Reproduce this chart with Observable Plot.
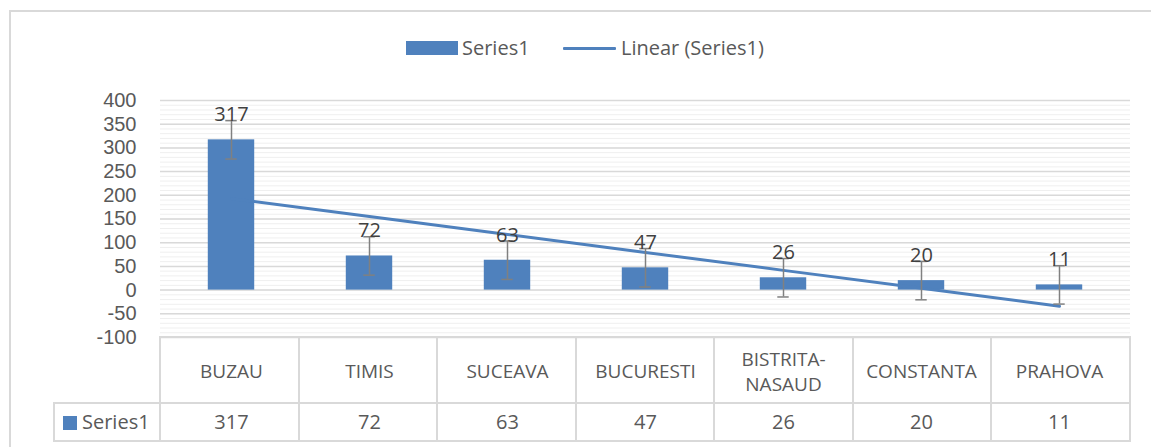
<!DOCTYPE html>
<html>
<head>
<meta charset="utf-8">
<script src="https://cdn.jsdelivr.net/npm/d3@7"></script>
<script src="https://cdn.jsdelivr.net/npm/@observablehq/plot@0.6"></script>
<style>
  html, body { margin: 0; padding: 0; background: #fff; }
  #wrap { position: relative; width: 1151px; height: 447px; overflow: hidden; font-family: "Open Sans", sans-serif; color: #595959; }
  #wrap svg { position: absolute; left: 0; top: 0; }
  .frame { position: absolute; left: 9px; top: 10px; width: 1200px; height: 500px; border: 2px solid #d9d9d9; box-sizing: border-box; }
  .ln { position: absolute; background: #d9d9d9; }
  .legend { position: absolute; top: 33px; left: 0; width: 1151px; height: 30px; font-size: 20px; }
  .legend .sw { position: absolute; }
  .legend .lbl { position: absolute; top: 0; line-height: 30px; white-space: nowrap; }
  .rowlbl { position: absolute; left: 63px; top: 405px; height: 34px; font-size: 20px; line-height: 34px; white-space: nowrap; }
  .rowlbl .sq { display: inline-block; width: 14px; height: 14px; background: #4f81bd; vertical-align: -1px; margin-right: 5px; }
  g[aria-label="y-axis tick label"] text { font-family: "Liberation Sans", Arial, sans-serif; }
</style>
</head>
<body>
<div id="wrap">
  <div class="frame"></div>
</div>
<script>
// ---- data ----
const categories = ["BUZAU", "TIMIS", "SUCEAVA", "BUCURESTI", "BISTRITA-NASAUD", "CONSTANTA", "PRAHOVA"];
const categoryLabels = ["BUZAU", "TIMIS", "SUCEAVA", "BUCURESTI", "BISTRITA-\nNASAUD", "CONSTANTA", "PRAHOVA"];
const values = [317, 72, 63, 47, 26, 20, 11];
const errorMargin = 40.5; // Excel standard-error bars (same for every bar)
const yTicks = [-100, -50, 0, 50, 100, 150, 200, 250, 300, 350, 400];
const yMinorTicks = d3.range(-100, 401, 10);
const seriesName = "Series1";
const trendName = "Linear (Series1)";

// ---- derived tables ----
const data = categories.map((c, i) => ({cat: c, label: categoryLabels[i], value: values[i], idx: i + 1}));
// linear trendline (least squares on index 1..n), as Excel does
const mx = d3.mean(data, d => d.idx), my = d3.mean(data, d => d.value);
const slope = d3.sum(data, d => (d.idx - mx) * (d.value - my)) / d3.sum(data, d => (d.idx - mx) ** 2);
const trend = data.map(d => ({cat: d.cat, y: my + slope * (d.idx - mx)}));

// ---- layout ----
const W = 1151, H = 447, mL = 160, mR = 21, mT = 100, mB = 110;
const bw = (W - mL - mR) / categories.length;
const blue = "#4f81bd";

const chart = Plot.plot({
  width: W, height: H,
  marginLeft: mL, marginRight: mR, marginTop: mT, marginBottom: mB,
  style: {fontFamily: "'Open Sans', sans-serif", fontSize: "20px", color: "#595959", background: "transparent", overflow: "visible"},
  x: {domain: categories, padding: 0, axis: null},
  y: {domain: [-100, 400], ticks: yTicks, tickFormat: d => String(d), tickSize: 0, tickPadding: 24, label: null},
  marks: [
    Plot.ruleY(yMinorTicks, {stroke: "#efefef", strokeWidth: 1}),
    Plot.ruleY(yTicks, {stroke: "#d9d9d9", strokeWidth: 1.5}),
    Plot.barY(data, {x: "cat", y: "value", fill: blue, insetLeft: (bw - 47) / 2, insetRight: (bw - 47) / 2}),
    Plot.line(trend, {x: "cat", y: "y", stroke: blue, strokeWidth: 3}),
    Plot.ruleX(data, {x: "cat", y1: d => d.value - errorMargin, y2: d => d.value + errorMargin, stroke: "#808080", strokeWidth: 1.5}),
    Plot.tickY(data, {x: "cat", y: d => d.value - errorMargin, stroke: "#808080", strokeWidth: 1.5, insetLeft: (bw - 12) / 2, insetRight: (bw - 12) / 2}),
    Plot.tickY(data, {x: "cat", y: d => d.value + errorMargin, stroke: "#808080", strokeWidth: 1.5, insetLeft: (bw - 12) / 2, insetRight: (bw - 12) / 2}),
    Plot.text(data, {x: "cat", y: "value", text: d => String(d.value), dy: -25, fill: "#404040", fontSize: 20}),
    // data table: category header row and value row
    Plot.text(data, {x: "cat", text: "label", frameAnchor: "bottom", dy: 33, lineAnchor: "middle", lineHeight: 1.3, fill: "#595959", fontSize: 19}),
    Plot.text(data, {x: "cat", text: d => String(d.value), frameAnchor: "bottom", dy: 85, lineAnchor: "middle", fill: "#595959", fontSize: 20})
  ]
});

const wrap = document.getElementById("wrap");
wrap.appendChild(chart);

// legend
const legend = document.createElement("div");
legend.className = "legend";
legend.innerHTML =
  `<div class="sw" style="left:406px;top:8px;width:52px;height:14px;background:${blue}"></div>` +
  `<div class="lbl" style="left:462px">${seriesName}</div>` +
  `<div class="sw" style="left:563px;top:14px;width:53px;height:3px;background:${blue};border-radius:1px"></div>` +
  `<div class="lbl" style="left:621px">${trendName}</div>`;
wrap.appendChild(legend);

// data-table grid lines
function line(x, y, w, h) {
  const d = document.createElement("div");
  d.className = "ln";
  d.style.left = x + "px"; d.style.top = y + "px"; d.style.width = w + "px"; d.style.height = h + "px";
  wrap.appendChild(d);
}
const yTop = H - mB, yMid = 403, yBot = 441, xR = W - mR;
line(mL, yTop - 1, xR - mL + 1, 2);
line(54, yMid - 1, xR - 54 + 1, 2);
line(54, yBot - 1, xR - 54 + 1, 2);
line(53, yMid - 1, 2, yBot - yMid + 2);
for (let k = 0; k <= categories.length; k++) {
  line(Math.round(mL + k * bw) - 1, yTop - 1, 2, yBot - yTop + 2);
}
// row header
const rl = document.createElement("div");
rl.className = "rowlbl";
rl.innerHTML = `<span class="sq"></span>${seriesName}`;
wrap.appendChild(rl);
</script>
</body>
</html>
